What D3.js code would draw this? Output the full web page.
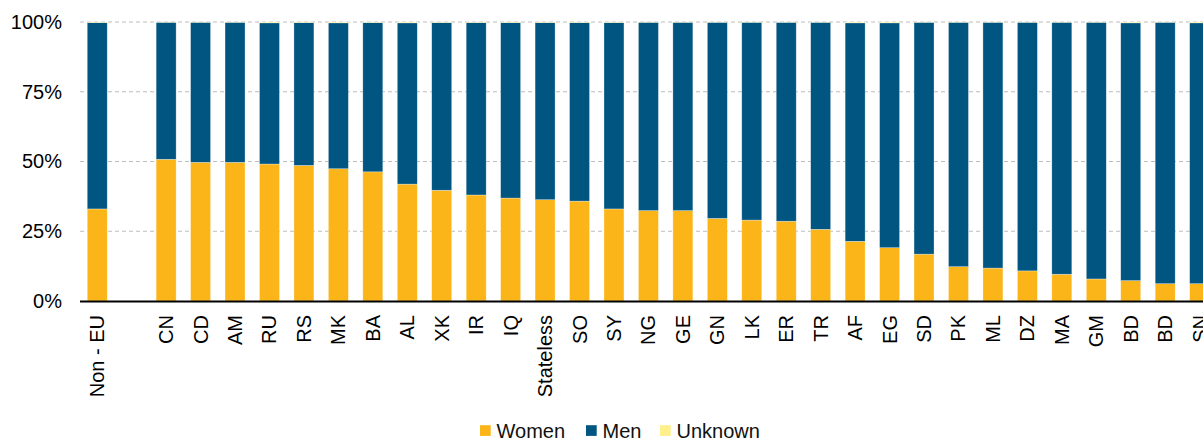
<!DOCTYPE html>
<html>
<head>
<meta charset="utf-8">
<script src="https://cdn.jsdelivr.net/npm/d3@7"></script>
<style>
  body { margin: 0; background: #fff; }
  svg { display: block; font-family: "Liberation Sans", Arial, sans-serif; }
</style>
</head>
<body>
<svg id="chart" width="1203" height="440"></svg>
<script>
// categories ("" is the empty gap after Non - EU)
const categories = ["Non - EU", "", "CN", "CD", "AM", "RU", "RS", "MK", "BA", "AL", "XK", "IR", "IQ",
  "Stateless", "SO", "SY", "NG", "GE", "GN", "LK", "ER", "TR", "AF", "EG", "SD", "PK", "ML",
  "DZ", "MA", "GM", "BD", "BD", "SN"];

// share of women, %
const women = [33.0, 0, 50.8, 49.7, 49.7, 49.1, 48.6, 47.4, 46.3, 41.9, 39.7, 38.0, 36.9,
  36.3, 35.8, 33.0, 32.4, 32.4, 29.6, 29.0, 28.6, 25.7, 21.4, 19.1, 16.8, 12.3, 11.8,
  10.8, 9.6, 7.9, 7.3, 6.2, 6.2];

// share of unknown, %
const unknown = [0.2, 0, 0.1, 0.1, 0.1, 0.3, 0.2, 0.3, 0.2, 0.3, 0.2, 0.2, 0.2,
  0.2, 0.2, 0.2, 0.1, 0.1, 0.1, 0.1, 0.1, 0.1, 0.3, 0.3, 0.1, 0.1, 0.1,
  0.1, 0.1, 0.1, 0.3, 0.1, 0.3];

// share of men, %
const men = [66.8, 0, 49.1, 50.2, 50.2, 50.6, 51.2, 52.3, 53.5, 57.8, 60.1, 61.8, 62.9,
  63.5, 64.0, 66.8, 67.5, 67.5, 70.3, 70.9, 71.3, 74.2, 78.3, 80.6, 83.1, 87.6, 88.1,
  89.1, 90.3, 92.0, 92.4, 93.7, 93.5];

const yTicks = [0, 25, 50, 75, 100];

const seriesNames = ["Women", "Men", "Unknown"];
const colors = { Women: "#FBB518", Men: "#005581", Unknown: "#FFF08C" };

const svg = d3.select("#chart");
const margin = { top: 22, left: 80, bottom: 139 };
const height = 440 - margin.top - margin.bottom;
const step = 34.45;
const fontSize = "20px";

const rows = categories.map((c, i) => ({
  key: i, cat: c, Women: women[i], Men: men[i], Unknown: unknown[i]
}));

const x = d3.scaleBand()
  .domain(rows.map(d => d.key))
  .range([margin.left, margin.left + step * categories.length])
  .paddingInner(0.42)
  .paddingOuter(0.21);

const y = d3.scaleLinear().domain([0, 100]).range([margin.top + height, margin.top]);

// gridlines
svg.append("g")
  .selectAll("line")
  .data(yTicks.filter(t => t > 0))
  .join("line")
  .attr("x1", margin.left)
  .attr("x2", 1203)
  .attr("y1", d => y(d))
  .attr("y2", d => y(d))
  .attr("stroke", "#bdbdbd")
  .attr("stroke-width", 1)
  .attr("stroke-dasharray", "4,3");

// y axis labels
const yAxis = d3.axisLeft(y).tickValues(yTicks).tickFormat(d => d + "%").tickSize(0).tickPadding(0);
svg.append("g")
  .attr("transform", `translate(${margin.left - 18},0)`)
  .call(yAxis)
  .call(g => g.select(".domain").remove())
  .selectAll("text")
  .attr("font-size", fontSize)
  .attr("fill", "#000")
  .attr("font-family", "Liberation Sans, Arial, sans-serif");

// stacked bars
const stack = d3.stack().keys(seriesNames);
svg.append("g")
  .selectAll("g")
  .data(stack(rows))
  .join("g")
  .attr("fill", d => colors[d.key])
  .selectAll("rect")
  .data(d => d)
  .join("rect")
  .attr("x", d => x(d.data.key))
  .attr("width", x.bandwidth())
  .attr("y", d => y(d[1]))
  .attr("height", d => Math.max(0, y(d[0]) - y(d[1])))
  .attr("stroke", "#ffffff")
  .attr("stroke-opacity", 0.5)
  .attr("stroke-width", 0.6);

// x axis
const xAxis = d3.axisBottom(x).tickFormat(k => categories[k]).tickSize(0).tickPadding(0);
svg.append("g")
  .attr("transform", `translate(0,${margin.top + height})`)
  .call(xAxis)
  .call(g => g.select(".domain").remove())
  .selectAll("text")
  .attr("font-size", fontSize)
  .attr("fill", "#000")
  .attr("font-family", "Liberation Sans, Arial, sans-serif")
  .attr("transform", "rotate(-90)")
  .attr("text-anchor", "end")
  .attr("dy", "0.35em")
  .attr("x", -14)
  .attr("y", 0);

svg.append("line")
  .attr("x1", margin.left)
  .attr("x2", 1203)
  .attr("y1", y(0) + 0.5)
  .attr("y2", y(0) + 0.5)
  .attr("stroke", "#000")
  .attr("stroke-width", 2);

// legend
const legendX = [480, 586, 660];
const legend = svg.append("g").attr("transform", "translate(0,430.5)");
seriesNames.forEach((name, i) => {
  const g = legend.append("g").attr("transform", `translate(${legendX[i]},0)`);
  g.append("rect").attr("x", 0).attr("y", -5.3).attr("width", 10.7).attr("height", 10.7).attr("fill", colors[name]);
  g.append("text").attr("x", 16.5).attr("y", 0).attr("dy", "0.35em")
    .attr("font-size", fontSize).attr("fill", "#111").text(name);
});
</script>
</body>
</html>
